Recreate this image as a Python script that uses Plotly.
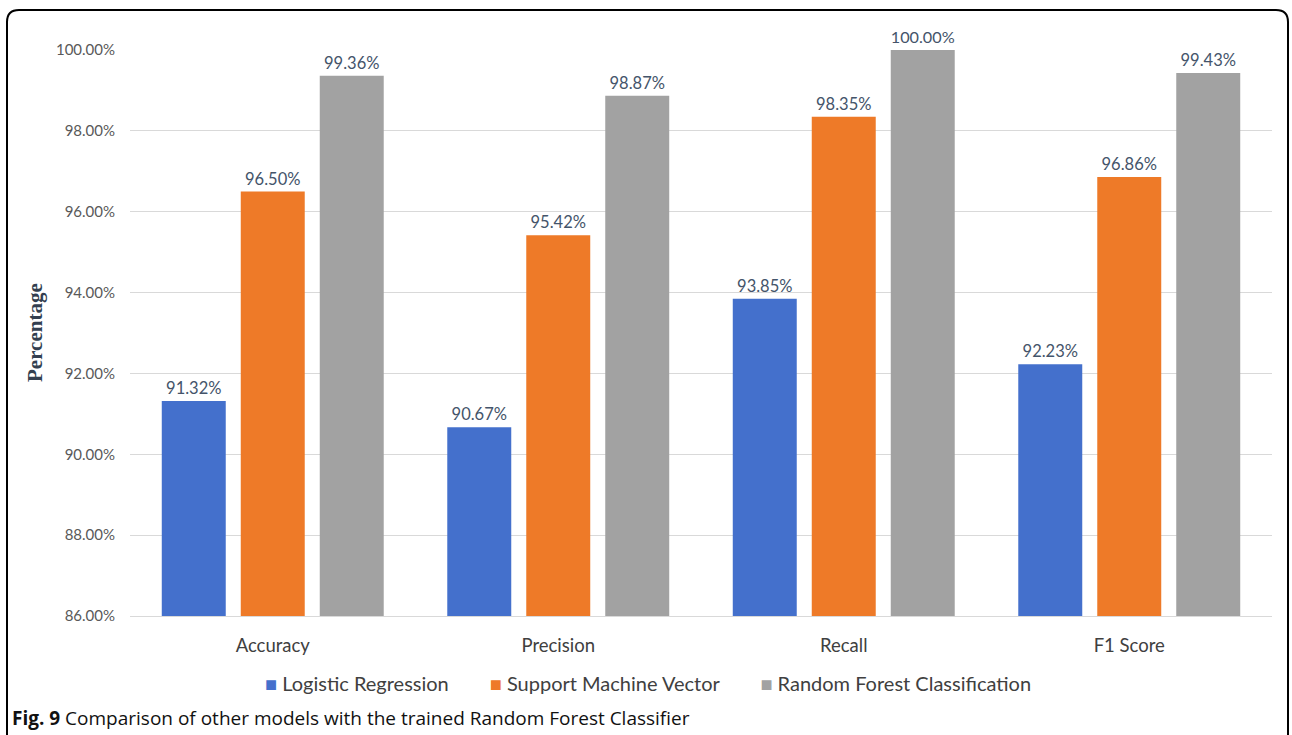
import plotly.graph_objects as go

categories = ["Accuracy", "Precision", "Recall", "F1 Score"]
series_names = ["Logistic Regression", "Support Machine Vector", "Random Forest Classification"]
logistic = [91.32, 90.67, 93.85, 92.23]
svm = [96.50, 95.42, 98.35, 96.86]
rf = [99.36, 98.87, 100.00, 99.43]
colors = ["#4470cc", "#ee7a28", "#a2a2a2"]

W, H = 1292, 735
L, R, T, B = 130, 20, 50, 119
pw, ph = W - L - R, H - T - B

def px(x):
    return (x - L) / pw

def py(y):
    return (H - B - y) / ph

fig = go.Figure()
for name, vals, c in zip(series_names, [logistic, svm, rf], colors):
    fig.add_trace(go.Bar(
        x=categories, y=vals, name=name, marker=dict(color=c, line=dict(width=0)),
        texttemplate="%{y:.2f}%", textposition="outside",
        textfont=dict(size=16.5, color="#44546a", family="Lato"),
        cliponaxis=False, showlegend=False,
    ))

# legend built as one line of text with coloured square glyphs
legend_text = "&nbsp;&nbsp;&nbsp;&nbsp;&nbsp;&nbsp;&nbsp;&nbsp;".join(
    f"<span style='color:{c}'>■</span> {n}" for n, c in zip(series_names, colors))
fig.add_annotation(x=px(648), y=py(683), xref="paper", yref="paper",
                   xanchor="center", yanchor="middle", text=legend_text, showarrow=False,
                   font=dict(family="Lato", size=20, color="#404040"))

# rounded border
r = 12
x0, x1, y0, y1 = 7, 1288, 10, 760
path = (f"M {px(x0)},{py(y1)} L {px(x0)},{py(y0 + r)} "
        f"Q {px(x0)},{py(y0)} {px(x0 + r)},{py(y0)} "
        f"L {px(x1 - r)},{py(y0)} Q {px(x1)},{py(y0)} {px(x1)},{py(y0 + r)} "
        f"L {px(x1)},{py(y1)}")
fig.add_shape(type="path", path=path, xref="paper", yref="paper",
              line=dict(color="black", width=2))

fig.add_annotation(x=px(35), y=py(333), xref="paper", yref="paper",
                   xanchor="center", yanchor="middle",
                   text="<b>Percentage</b>", textangle=-90, showarrow=False,
                   font=dict(family="Liberation Serif", size=21, color="#333f50"))
fig.add_annotation(x=px(10), y=py(718), xref="paper", yref="paper",
                   xanchor="left", yanchor="middle",
                   text="<b>Fig. 9</b> Comparison of other models with the trained Random Forest Classifier",
                   showarrow=False, font=dict(family="Open Sans", size=19, color="#111111"))

fig.update_layout(
    width=W, height=H,
    margin=dict(l=L, r=R, t=T, b=B),
    paper_bgcolor="white", plot_bgcolor="white",
    barmode="group", bargap=0.17, bargroupgap=0.19,
    font=dict(family="Lato", color="#595959"),
    showlegend=False,
)
fig.update_yaxes(range=[86, 100], dtick=2, tickformat=".2f", ticksuffix="%",
                 showgrid=True, gridcolor="#d9d9d9", gridwidth=1, zeroline=False,
                 tickfont=dict(size=15, color="#595959"), ticklabelstandoff=14)
fig.update_xaxes(showline=True, linecolor="#d9d9d9", linewidth=1,
                 tickfont=dict(size=18.5, color="#404040"), ticklabelstandoff=13)

fig.write_html("out.html")
